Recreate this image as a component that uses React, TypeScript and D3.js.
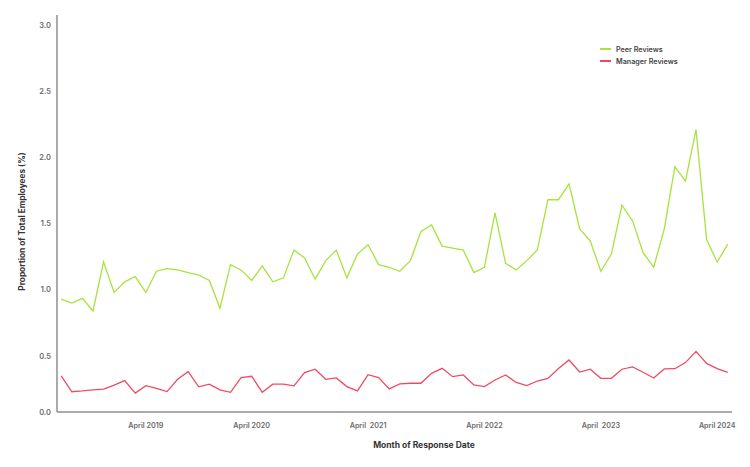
import * as d3 from "d3";
import { useEffect, useRef } from "react";

// months on the x axis (some months have no data, so they are skipped)
const months = [
  "2018-08", "2018-09", "2018-10", "2018-11", "2018-12", "2019-01", "2019-02", "2019-03", "2019-04",
  "2019-05", "2019-06", "2019-07", "2019-08", "2019-09", "2019-10", "2019-11", "2020-02", "2020-03", "2020-04",
  "2020-05", "2020-06", "2020-07", "2020-08", "2020-09", "2020-10", "2020-11", "2021-01", "2021-02", "2021-03", "2021-04",
  "2021-05", "2021-06", "2021-07", "2021-08", "2021-09", "2021-10", "2021-11", "2022-01", "2022-02", "2022-03", "2022-04",
  "2022-05", "2022-06", "2022-07", "2022-08", "2022-09", "2022-10", "2022-11", "2023-01", "2023-02", "2023-03", "2023-04",
  "2023-05", "2023-06", "2023-07", "2023-08", "2023-09", "2023-10", "2023-11", "2024-01", "2024-02", "2024-03", "2024-04",
  "2024-05",
];

const peerReviews = [
  0.93, 0.90, 0.935, 0.84, 1.21, 0.98, 1.06, 1.10, 0.98, 1.14,
  1.16, 1.15, 1.13, 1.11, 1.07, 0.86, 1.19, 1.15, 1.07, 1.18,
  1.06, 1.09, 1.30, 1.24, 1.08, 1.22, 1.30, 1.09, 1.27, 1.34,
  1.19, 1.17, 1.14, 1.22, 1.44, 1.49, 1.33, 1.315, 1.30, 1.13,
  1.17, 1.58, 1.20, 1.15, 1.22, 1.30, 1.68, 1.68, 1.80, 1.46,
  1.37, 1.14, 1.27, 1.64, 1.52, 1.28, 1.17, 1.46, 1.93, 1.82,
  2.21, 1.38, 1.21, 1.345,
];

const managerReviews = [
  0.35, 0.23, 0.236, 0.244, 0.25, 0.28, 0.314, 0.22, 0.276, 0.256,
  0.231, 0.324, 0.382, 0.267, 0.287, 0.244, 0.226, 0.337, 0.347, 0.226,
  0.287, 0.287, 0.274, 0.374, 0.40, 0.324, 0.334, 0.269, 0.236, 0.359,
  0.337, 0.251, 0.289, 0.294, 0.294, 0.369, 0.407, 0.344, 0.357, 0.281,
  0.269, 0.319, 0.357, 0.30, 0.276, 0.311, 0.331, 0.405, 0.47, 0.379,
  0.40, 0.331, 0.331, 0.40, 0.417, 0.377, 0.334, 0.402, 0.404, 0.45,
  0.535, 0.444, 0.405, 0.377,
];

const tickMonths = ["2019-04", "2020-04", "2021-04", "2022-04", "2023-04", "2024-04"];
const tickLabels = ["April 2019", "April 2020", "April  2021", "April 2022", "April  2023", "April 2024"];
const yTicks = [0, 0.5, 1, 1.5, 2, 2.5, 3];

const seriesNames = ["Peer Reviews", "Manager Reviews"];
const seriesColors = ["#a6e33e", "#ee4b62"];

const width = 750,
  height = 467;
const margin = { top: 15, right: 18, bottom: 55, left: 57 };
const font = "Inter, 'Noto Sans', sans-serif";

export default function App() {
  const ref = useRef<SVGSVGElement>(null);

  useEffect(() => {
    const svg = d3.select(ref.current);
    svg.selectAll("*").remove();

    const x0 = margin.left,
      x1 = width - margin.right,
      yBottom = height - margin.bottom;

    const xScale = d3.scalePoint<string>().domain(months).range([x0, x1]).padding(0.4);
    // the axis baseline sits a little above zero; the "0.0" label is pinned to it
    const yScale = d3.scaleLinear().domain([0.077, 3.075]).range([yBottom, margin.top]);

    const g = svg.append("g");

    // axes lines
    g.append("line")
      .attr("x1", x0).attr("x2", x0)
      .attr("y1", margin.top).attr("y2", yBottom)
      .attr("stroke", "#8f8f8f").attr("stroke-width", 1.5);
    g.append("line")
      .attr("x1", x0).attr("x2", x1)
      .attr("y1", yBottom).attr("y2", yBottom)
      .attr("stroke", "#8f8f8f").attr("stroke-width", 1.5);

    // y tick labels
    g.selectAll("text.ytick")
      .data(yTicks)
      .enter()
      .append("text")
      .attr("class", "ytick")
      .attr("x", x0 - 6)
      .attr("y", (d) => Math.min(yScale(d), yBottom))
      .attr("dy", "0.35em")
      .attr("text-anchor", "end")
      .attr("font-family", font)
      .attr("font-size", 7.5)
      .attr("font-weight", 600)
      .attr("fill", "#6b6b6b")
      .text((d) => d.toFixed(1));

    // x tick labels
    g.selectAll("text.xtick")
      .data(tickMonths)
      .enter()
      .append("text")
      .attr("class", "xtick")
      .attr("x", (d) => xScale(d) as number)
      .attr("y", yBottom + 16)
      .attr("text-anchor", "middle")
      .attr("font-family", font)
      .attr("font-size", 7.2)
      .attr("font-weight", 600)
      .attr("fill", "#6b6b6b")
      .style("white-space", "pre")
      .text((d, i) => tickLabels[i]);

    // lines
    const line = d3
      .line<number>()
      .x((d, i) => xScale(months[i]) as number)
      .y((d) => yScale(d));

    [peerReviews, managerReviews].forEach((vals, k) => {
      g.append("path")
        .datum(vals)
        .attr("d", line)
        .attr("fill", "none")
        .attr("stroke", seriesColors[k])
        .attr("stroke-width", 1.3)
        .attr("stroke-linejoin", "miter");
    });

    // axis titles
    g.append("text")
      .attr("x", 424)
      .attr("y", height - 19)
      .attr("text-anchor", "middle")
      .attr("font-family", font)
      .attr("font-size", 8.5)
      .attr("font-weight", 700)
      .attr("fill", "#333")
      .text("Month of Response Date");

    g.append("text")
      .attr("transform", `translate(25,${(margin.top + yBottom) / 2 + 8}) rotate(-90)`)
      .attr("text-anchor", "middle")
      .attr("font-family", font)
      .attr("font-size", 8.3)
      .attr("font-weight", 700)
      .attr("fill", "#333")
      .text("Proportion of Total Employees (%)");

    // legend
    const legend = g.append("g").attr("transform", "translate(600,49)");
    seriesNames.forEach((name, i) => {
      const row = legend.append("g").attr("transform", `translate(0,${i * 12})`);
      row.append("line")
        .attr("x1", 0).attr("x2", 11)
        .attr("stroke", seriesColors[i])
        .attr("stroke-width", 2);
      row.append("text")
        .attr("x", 16)
        .attr("dy", "0.35em")
        .attr("font-family", font)
        .attr("font-size", 7.2)
        .attr("font-weight", 600)
        .attr("fill", "#444")
        .text(name);
    });
  }, []);

  return (
    <svg
      ref={ref}
      width={width}
      height={height}
      style={{ position: "absolute", left: 0, top: 0, background: "white" }}
    />
  );
}
